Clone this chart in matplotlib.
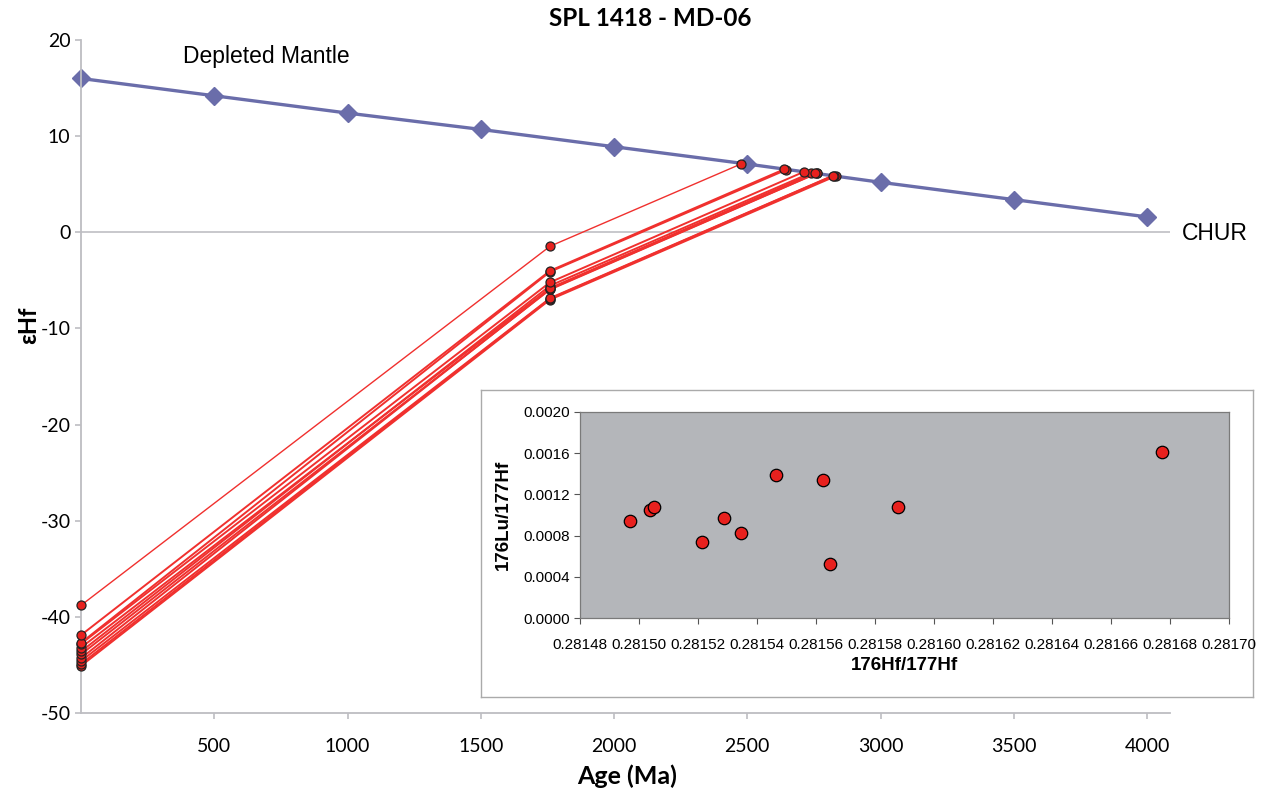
import matplotlib
matplotlib.use("Agg")
import matplotlib.pyplot as plt

# Depleted mantle reference curve
dm_age = [0, 500, 1000, 1500, 2000, 2500, 3000, 3500, 4000]
dm_ehf = [16.0, 14.2, 12.4, 10.7, 8.9, 7.1, 5.2, 3.4, 1.6]

# zircon Hf evolution: present day -> crystallisation age -> two-stage TDM
eps_now = [-45.1, -44.9, -44.6, -44.3, -43.9, -43.6, -43.2, -42.8, -42.7, -41.9, -38.8]
cryst_age = 1760
eps_cryst = [-7.0, -6.9, -6.85, -5.9, -5.95, -5.55, -5.8, -5.2, -4.1, -4.0, -1.45]
tdm_age = [2832, 2824, 2822, 2760, 2762, 2740, 2753, 2713, 2646, 2638, 2476]
tdm_ehf = [5.85, 5.9, 5.9, 6.15, 6.15, 6.2, 6.2, 6.3, 6.5, 6.55, 7.1]

# inset: 176Hf/177Hf vs 176Lu/177Hf
hf_ratio = [0.2814968, 0.2815038, 0.2815050, 0.2815214, 0.2815287, 0.2815346,
            0.2815464, 0.2815624, 0.2815647, 0.2815877, 0.2816772]
lu_ratio = [0.000945, 0.001048, 0.001074, 0.000735, 0.000971, 0.000829,
            0.001387, 0.001335, 0.000529, 0.001074, 0.001610]

W, H = 1274, 793
fig = plt.figure(figsize=(W / 100, H / 100), dpi=100)

ax = fig.add_axes([81 / W, 1 - 713 / H, 1089 / W, 673 / H])
ax.set_xlim(0, 4086)
ax.set_ylim(-50, 20)

ax.axhline(0, color="#C4C4C8", lw=1.3, zorder=1)
ax.plot(dm_age, dm_ehf, color="#6A6DAA", lw=2.4, marker="D", ms=9,
        mfc="#6A6DAA", mec="#6A6DAA", zorder=2, clip_on=False)

for i in range(len(eps_now)):
    xs = [0, cryst_age, tdm_age[i]]
    ys = [eps_now[i], eps_cryst[i], tdm_ehf[i]]
    lw = 1.0 if i == len(eps_now) - 1 else 1.4
    ax.plot(xs, ys, color="#F0302E", lw=lw, zorder=3, clip_on=False)
    ax.plot(xs, ys, ls="none", marker="o", ms=6.5, mfc="#E8211E", mec="#222222",
            mew=0.9, zorder=4, clip_on=False)

for s in ["top", "right"]:
    ax.spines[s].set_visible(False)
for s in ["left", "bottom"]:
    ax.spines[s].set_color("#BDBDC2")
    ax.spines[s].set_linewidth(1.3)

ax.set_xticks([500, 1000, 1500, 2000, 2500, 3000, 3500, 4000])
ax.set_xticklabels(["500", "1000", "1500", "2000", "2500", "3000", "3500", "4000"])
yt = [20, 10, 0, -10, -20, -30, -40, -50]
ax.set_yticks(yt)
ax.set_yticklabels([str(v) for v in yt])
ax.tick_params(axis="both", colors="#BDBDC2", length=4, width=1.2,
               labelcolor="black", labelsize=14)
ax.tick_params(axis="x", pad=14)
for lab in ax.get_xticklabels() + ax.get_yticklabels():
    lab.set_family("Lato")

fig.text(627 / W, 1 - 776 / H, "Age (Ma)", family="Lato", fontweight="bold",
         fontsize=18, ha="center", va="center")
fig.text(29 / W, 1 - 325 / H, "\u03b5Hf", family="Lato", fontweight="bold",
         fontsize=17, ha="center", va="center", rotation=90)

fig.text(650 / W, 1 - 19 / H, "SPL 1418 - MD-06", family="Lato", fontweight="bold",
         fontsize=17.5, ha="center", va="center")
fig.text(183 / W, 1 - 57 / H, "Depleted Mantle", family="Liberation Sans",
         fontsize=16.5, ha="left", va="center")
fig.text(1182 / W, 1 - 233 / H, "CHUR", family="Liberation Sans", fontsize=16.5,
         ha="left", va="center")

# inset frame
box = fig.add_axes([481 / W, 1 - 697 / H, 772 / W, 307 / H])
box.set_xticks([])
box.set_yticks([])
box.set_facecolor("white")
for s in box.spines.values():
    s.set_color("#AAAAAA")
    s.set_linewidth(1.0)

ins = fig.add_axes([580 / W, 1 - 618.3 / H, 649 / W, 206.6 / H])
ins.set_facecolor("#B4B6BA")
ins.scatter(hf_ratio, lu_ratio, s=80, c="#E8211E", edgecolors="black",
            linewidths=0.9, zorder=3)
ins.set_xlim(0.28148, 0.28170)
ins.set_ylim(0, 0.002)
hx = [0.28148 + 0.00002 * k for k in range(12)]
ins.set_xticks(hx)
ins.set_xticklabels(["%.5f" % v for v in hx])
hy = [0.0, 0.0004, 0.0008, 0.0012, 0.0016, 0.0020]
ins.set_yticks(hy)
ins.set_yticklabels(["%.4f" % v for v in hy])
ins.tick_params(axis="both", length=4, width=0.8, colors="#555555",
                labelcolor="black", labelsize=11)
ins.tick_params(axis="x", pad=10)
for lab in ins.get_xticklabels() + ins.get_yticklabels():
    lab.set_family("Liberation Sans")
for s in ins.spines.values():
    s.set_color("#7A7A7A")
    s.set_linewidth(0.9)
ins.set_xlabel("176Hf/177Hf", family="Liberation Sans", fontweight="bold",
               fontsize=13.5, labelpad=4)
ins.set_ylabel("176Lu/177Hf", family="Liberation Sans", fontweight="bold",
               fontsize=13.5, labelpad=8)

fig.savefig("out.png", dpi=100)
